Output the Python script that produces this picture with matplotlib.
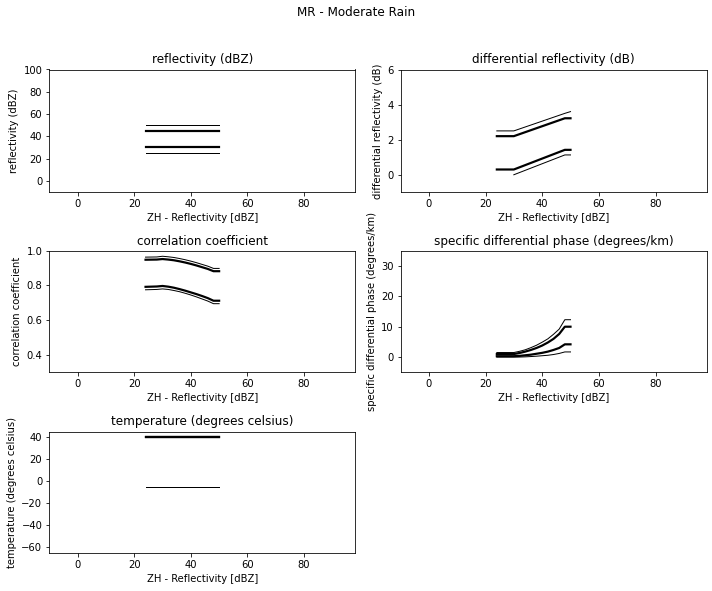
import matplotlib
matplotlib.use("Agg")
import matplotlib.pyplot as plt

# x axis: ZH reflectivity points
zh = [24, 28, 30, 32, 34, 36, 38, 40, 42, 44, 46, 48, 50]
zh_flat = [24, 50]

# reflectivity (dBZ) membership bounds
refl_thin_lo = [25, 25]
refl_thick_lo = [30.5, 30.5]
refl_thick_hi = [45, 45]
refl_thin_hi = [50, 50]

# differential reflectivity (dB)
zdr_x = [24, 30, 48, 50]
zdr_x_thin_lo = [30, 48, 50]
zdr_thin_lo = [0.0, 1.13, 1.13]
zdr_thick_lo = [0.3, 0.3, 1.42, 1.42]
zdr_thick_hi = [2.2, 2.2, 3.22, 3.22]
zdr_thin_hi = [2.5, 2.5, 3.5, 3.6]

# correlation coefficient
rho_thin_lo = [0.775, 0.777, 0.780, 0.777, 0.771, 0.764, 0.755, 0.745, 0.734, 0.722, 0.710, 0.695, 0.695]
rho_thick_lo = [0.792, 0.794, 0.797, 0.793, 0.787, 0.779, 0.770, 0.760, 0.750, 0.739, 0.727, 0.712, 0.712]
rho_thick_hi = [0.948, 0.949, 0.952, 0.949, 0.945, 0.939, 0.932, 0.924, 0.915, 0.905, 0.895, 0.882, 0.882]
rho_thin_hi = [0.963, 0.964, 0.968, 0.965, 0.961, 0.955, 0.948, 0.940, 0.931, 0.921, 0.911, 0.898, 0.898]

# specific differential phase (deg/km)
kdp_thin_lo = [0.0, 0.0, 0.0, 0.02, 0.08, 0.18, 0.3, 0.45, 0.6, 0.85, 1.2, 1.7, 1.7]
kdp_thick_lo = [0.3, 0.3, 0.3, 0.4, 0.6, 0.8, 1.1, 1.4, 1.8, 2.35, 3.0, 4.2, 4.2]
kdp_thick_hi = [1.0, 1.0, 1.0, 1.35, 1.8, 2.35, 3.0, 3.8, 4.8, 6.0, 7.6, 10.0, 10.0]
kdp_thin_hi = [1.5, 1.5, 1.5, 1.9, 2.4, 3.1, 3.9, 4.9, 6.0, 7.5, 9.2, 12.3, 12.3]

# temperature (deg C)
temp_thin_lo = [-5, -5]
temp_thick_lo = [40, 40]
temp_thick_hi = [40, 40]
temp_thin_hi = [40, 40]

titles = ["reflectivity (dBZ)", "differential reflectivity (dB)",
          "correlation coefficient", "specific differential phase (degrees/km)",
          "temperature (degrees celsius)"]
ylims = [(-10, 100), (-1, 6), (0.3, 1.0), (-5, 35), (-65, 45)]

W, H = 712, 591
fig = plt.figure(figsize=(W / 72, H / 72), dpi=72, facecolor="white")

def ax_at(l, r, t, b):
    return fig.add_axes([l / W, 1 - b / H, (r - l) / W, (b - t) / H])

cols = [(49.3, 355.0), (400.5, 706.5)]
rows = [(69.5, 192.3), (250.7, 372.3), (431.5, 552.5)]
positions = [(0, 0), (0, 1), (1, 0), (1, 1), (2, 0)]

THICK, THIN = 2.2, 1.0

datasets = [
    [(zh_flat, refl_thin_lo, THIN), (zh_flat, refl_thick_lo, THICK), (zh_flat, refl_thick_hi, THICK), (zh_flat, refl_thin_hi, THIN)],
    [(zdr_x_thin_lo, zdr_thin_lo, THIN), (zdr_x, zdr_thick_lo, THICK), (zdr_x, zdr_thick_hi, THICK), (zdr_x, zdr_thin_hi, THIN)],
    [(zh, rho_thin_lo, THIN), (zh, rho_thick_lo, THICK), (zh, rho_thick_hi, THICK), (zh, rho_thin_hi, THIN)],
    [(zh, kdp_thin_lo, THIN), (zh, kdp_thick_lo, THICK), (zh, kdp_thick_hi, THICK), (zh, kdp_thin_hi, THIN)],
    [(zh_flat, temp_thin_lo, THIN), (zh_flat, temp_thick_lo, THICK), (zh_flat, temp_thick_hi, THICK), (zh_flat, temp_thin_hi, THIN)],
]

for i, (r, c) in enumerate(positions):
    l, rr = cols[c]
    t, b = rows[r]
    ax = ax_at(l, rr, t, b)
    for x, y, lw in datasets[i]:
        ax.plot(x, y, color="black", lw=lw)
    ax.set_xlim(-10, 98)
    ax.set_ylim(*ylims[i])
    ax.set_xticks([0, 20, 40, 60, 80])
    ax.set_title(titles[i], fontsize=12)
    ax.set_ylabel(titles[i], fontsize=10)
    ax.set_xlabel("ZH - Reflectivity [dBZ]", fontsize=10)

fig.suptitle("MR - Moderate Rain", fontsize=12, y=1 - 13 / H, va="center")

fig.savefig("out.png", dpi=72, facecolor="white")
